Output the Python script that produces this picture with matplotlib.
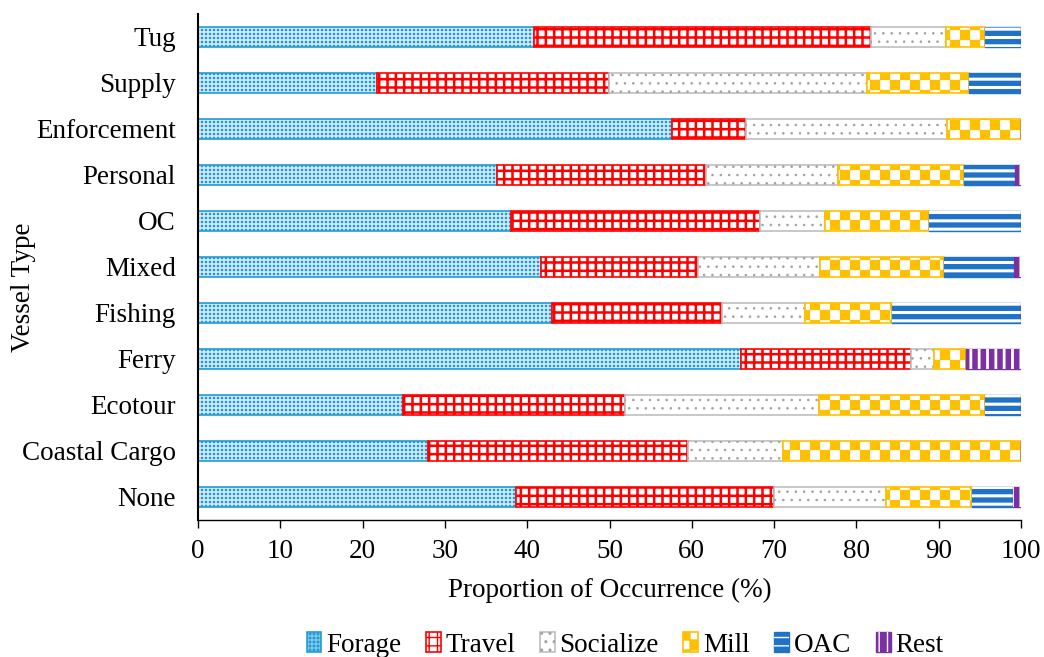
import numpy as np
import matplotlib
matplotlib.use("Agg")
import matplotlib as mpl
import matplotlib.pyplot as plt
from matplotlib import hatch as mhatch
from matplotlib.path import Path
from matplotlib.patches import Patch
from matplotlib.legend_handler import HandlerTuple

# ---------------- data ----------------
categories = ["None", "Coastal Cargo", "Ecotour", "Ferry", "Fishing", "Mixed",
              "OC", "Personal", "Enforcement", "Supply", "Tug"]
behaviours = ["Forage", "Travel", "Socialize", "Mill", "OAC", "Rest"]

forage    = [38.6, 27.9, 24.9, 66.0, 43.0, 41.7, 38.0, 36.3, 57.6, 21.7, 40.8]
travel    = [31.4, 31.6, 27.0, 20.6, 20.7, 19.1, 30.3, 25.4,  9.0, 28.2, 41.0]
socialize = [13.6, 11.6, 23.6,  2.8, 10.1, 14.8,  7.9, 16.1, 24.4, 31.4,  9.1]
mill      = [10.4, 28.9, 20.1,  3.9, 10.5, 15.0, 12.6, 15.3,  9.0, 12.4,  4.7]
oac       = [ 5.0,  0.0,  4.4,  0.0, 15.7,  8.6, 11.2,  6.2,  0.0,  6.3,  4.4]
rest      = [ 1.0,  0.0,  0.0,  6.7,  0.0,  0.8,  0.0,  0.7,  0.0,  0.0,  0.0]

xticks = list(range(0, 101, 10))


# ---------------- custom hatches ----------------
def _squares(xs_ys, s):
    sq = np.array([[0, 0], [s, 0], [s, s], [0, s], [0, 0]])
    sqc = [Path.MOVETO, Path.LINETO, Path.LINETO, Path.LINETO, Path.CLOSEPOLY]
    vs = [sq + [x0, y0] for x0, y0 in xs_ys]
    return np.concatenate(vs), sqc * len(xs_ys)


class Checker(mhatch.HatchPatternBase):
    """checkerboard, replaces 'O'"""
    def __init__(self, hatch, density):
        self.n = hatch.count('O') * 5
        self.num_vertices = 2 * self.n * self.n * 5

    def set_vertices_and_codes(self, vertices, codes):
        n = self.n
        s = 1.0 / (2 * n)
        pos = [(i * 2 * s + (j % 2) * s, j * s) for j in range(2 * n) for i in range(n)]
        v, c = _squares(pos, s)
        vertices[:] = v
        codes[:] = c


class DotGrid(mhatch.HatchPatternBase):
    """fine square dot grid, replaces 'o'"""
    def __init__(self, hatch, density):
        self.n = hatch.count('o') * 25
        self.num_vertices = self.n * self.n * 5

    def set_vertices_and_codes(self, vertices, codes):
        n = self.n
        step = 1.0 / n
        pos = [(i * step + 0.01, j * step + 0.01) for j in range(n) for i in range(n)]
        v, c = _squares(pos, 0.02)
        vertices[:] = v
        codes[:] = c


new_types = []
for t in mhatch._hatch_types:
    if t is mhatch.LargeCircles:
        new_types.append(Checker)
    elif t is mhatch.SmallCircles:
        new_types.append(DotGrid)
    else:
        new_types.append(t)
mhatch._hatch_types[:] = new_types

# ---------------- style ----------------
plt.rcParams['font.family'] = ['Liberation Serif', 'DejaVu Serif']
FS = 19.5

C_FOR = '#229BD6'
C_FOR_BG = '#E8F4FB'
C_TRA = '#FF0000'
C_SOC = '#BFBFBF'
C_SOC_DOT = '#A0A0A0'
C_MIL = '#FFC000'
C_OAC = '#1F72C6'
C_RES = '#7A2FA3'


def set_hlw(artist, lw):
    if hasattr(artist, 'set_hatch_linewidth'):
        artist.set_hatch_linewidth(lw)
    orig = artist.draw

    def draw(renderer, _orig=orig, _lw=lw):
        with mpl.rc_context({'hatch.linewidth': _lw}):
            _orig(renderer)
    artist.draw = draw


fig = plt.figure(figsize=(10.44, 6.57), dpi=100)
ax = fig.add_axes([198 / 1044, 1 - 520 / 657, (1021 - 198) / 1044, (520 - 14) / 657])

y = np.arange(len(categories))
h = 0.42
left = np.zeros(len(categories))

# Forage
b = ax.barh(y, forage, h, left=left, facecolor=C_FOR_BG, edgecolor=C_FOR,
            hatch='o', linewidth=1.2)
for p in b:
    set_hlw(p, 0.4)
left += np.array(forage)

# Travel
b = ax.barh(y, travel, h, left=left, facecolor='white', edgecolor=C_TRA,
            hatch='++', linewidth=1.2)
for p in b:
    set_hlw(p, 1.8)
left += np.array(travel)

# Socialize
b = ax.barh(y, socialize, h, left=left, facecolor='white', edgecolor=C_SOC,
            linewidth=1.2)
b2 = ax.barh(y, socialize, h, left=left, facecolor='none', edgecolor=C_SOC_DOT,
             hatch='..', linewidth=0)
for p in b2:
    set_hlw(p, 0.6)
left += np.array(socialize)

# Mill
b = ax.barh(y, mill, h, left=left, facecolor='white', edgecolor=C_MIL,
            hatch='O', linewidth=1.2)
for p in b:
    set_hlw(p, 0.2)
left += np.array(mill)

# OAC
b = ax.barh(y, oac, h, left=left, facecolor=C_OAC, edgecolor=C_OAC, linewidth=1.0)
b2 = ax.barh(y, oac, h, left=left, facecolor='none', edgecolor='white',
             hatch='--', linewidth=0)
for p in b2:
    set_hlw(p, 2.2)
left += np.array(oac)

# Rest
b = ax.barh(y, rest, h, left=left, facecolor=C_RES, edgecolor=C_RES, linewidth=1.0)
b2 = ax.barh(y, rest, h, left=left, facecolor='none', edgecolor='white',
             hatch='||', linewidth=0)
for p in b2:
    set_hlw(p, 2.0)
left += np.array(rest)

# ---------------- axes ----------------
ax.set_xlim(0, 100)
ax.set_ylim(-0.5, len(categories) - 0.5)
ax.set_xticks(xticks)
ax.set_xticklabels([str(t) for t in xticks], fontsize=FS)
ax.set_yticks(y)
ax.set_yticklabels(categories, fontsize=FS)
ax.tick_params(axis='x', direction='out', length=6, width=1.0, pad=8, colors='black')
ax.tick_params(axis='y', length=0, pad=16)
for s in ['top', 'right']:
    ax.spines[s].set_visible(False)
ax.spines['left'].set_linewidth(1.5)
ax.spines['bottom'].set_linewidth(1.0)
ax.set_xlabel("Proportion of Occurrence (%)", fontsize=FS, labelpad=10)
ax.set_ylabel("Vessel Type", fontsize=FS)
ax.yaxis.set_label_coords(-0.197, 0.46)

# ---------------- legend ----------------
def mk(fc, ec, hatch=None, lw=0.8, hlw=1.0):
    p = Patch(facecolor=fc, edgecolor=ec, hatch=hatch, linewidth=lw)
    set_hlw(p, hlw)
    return p

handles = [
    mk(C_FOR_BG, C_FOR, 'o', 1.2, 0.4),
    mk('white', C_TRA, '++', 1.2, 1.8),
    (mk('white', C_SOC, None, 1.2), mk('none', C_SOC_DOT, '..', 0, 0.6)),
    mk('white', C_MIL, 'O', 1.2, 0.2),
    (mk(C_OAC, C_OAC, None, 1.0), mk('none', 'white', '--', 0, 2.2)),
    (mk(C_RES, C_RES, None, 1.0), mk('none', 'white', '||', 0, 2.0)),
]
leg = fig.legend(handles, behaviours, loc='center', bbox_to_anchor=(625 / 1044, 1 - 645 / 657),
                 ncol=6, frameon=False, fontsize=FS, handlelength=0.55, handleheight=0.75,
                 handletextpad=0.18, columnspacing=0.9,
                 handler_map={tuple: HandlerTuple(ndivide=1)})

fig.savefig("out.png", dpi=100)
